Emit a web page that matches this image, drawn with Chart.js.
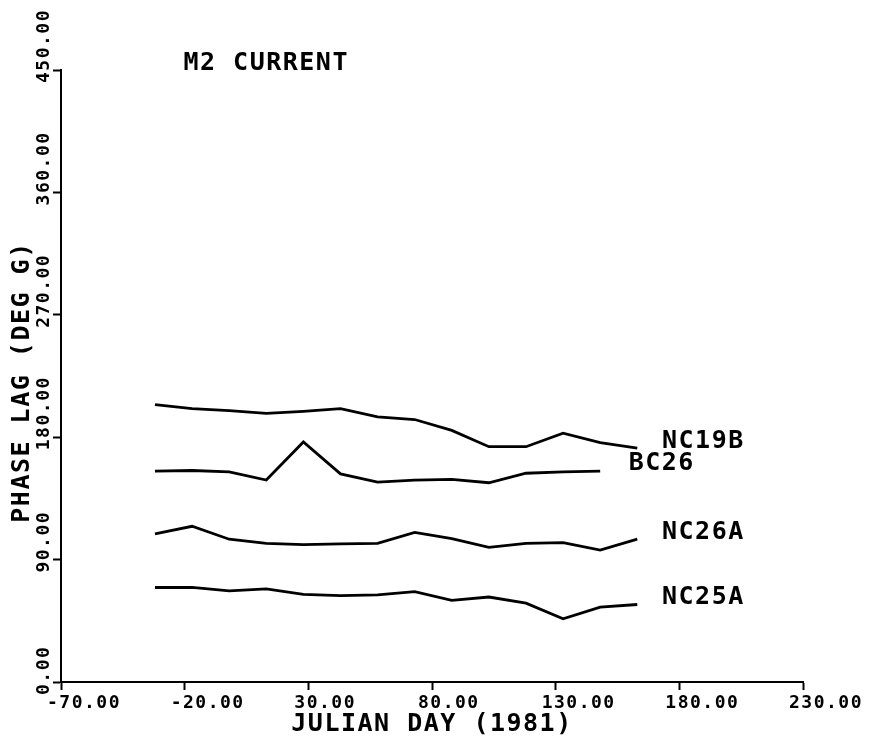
<!DOCTYPE html>
<html>
<head>
<meta charset="utf-8">
<style>
  html, body { margin: 0; padding: 0; background: #ffffff; }
  #wrap { width: 872px; height: 740px; position: relative; }
  canvas { display: block; }
</style>
<script src="https://cdn.jsdelivr.net/npm/chart.js@4/dist/chart.umd.min.js"></script>
</head>
<body>
<div id="wrap"><canvas id="c" width="872" height="740"></canvas></div>
<script>
// ---- data ----
const days   = [-32, -17, -2, 13, 28, 43, 58, 73, 88, 103, 118, 133, 148, 163];
const nc19b  = [204, 201, 199.5, 197.5, 199, 201, 195, 193, 185, 173, 173, 183, 176, 172];
const bc26   = [155, 155.5, 154.5, 148.5, 176.5, 153, 147, 148.5, 149, 146.5, 153.5, 154.5, 155];
const nc26a  = [109, 114.5, 105, 102, 101, 101.5, 102, 110, 105.5, 99, 102, 102.5, 97, 105];
const nc25a  = [69.5, 69.5, 67, 68.5, 64.5, 63.5, 64, 66.5, 60, 62.5, 58, 46.5, 55, 57];
const seriesNames = ['NC19B', 'BC26', 'NC26A', 'NC25A'];
const seriesValues = [nc19b, bc26, nc26a, nc25a];
const xTicks = { min: -70, max: 230, step: 50 };
const yTicks = { min: 0, max: 450, step: 90 };
const chartTitle = 'M2 CURRENT';
const xTitle = 'JULIAN DAY (1981)';
const yTitle = 'PHASE LAG (DEG G)';

// text anchors in data units (day, degrees)
const nameAnchors = [
  { day: 173, value: 177 },
  { day: 159.5, value: 160.5 },
  { day: 173, value: 110 },
  { day: 173, value: 62 }
];
const titleAnchor = { day: -20.5, value: 455 };

const FONT = '"DejaVu Sans Mono", "Liberation Mono", monospace';
const SPACING = '1.5px';

const spacingPlugin = {
  id: 'spacing',
  beforeUpdate(chart) { chart.ctx.letterSpacing = SPACING; },
  beforeDraw(chart) { chart.ctx.letterSpacing = SPACING; }
};

const textPlugin = {
  id: 'texts',
  afterDraw(chart) {
    const ctx = chart.ctx;
    const xs = chart.scales.x, ys = chart.scales.y;
    ctx.save();
    ctx.letterSpacing = SPACING;
    ctx.fillStyle = '#000';
    ctx.font = 'bold 25px ' + FONT;
    ctx.textAlign = 'left';
    ctx.textBaseline = 'middle';
    seriesNames.forEach((n, i) => {
      const a = nameAnchors[i];
      ctx.fillText(n, xs.getPixelForValue(a.day), ys.getPixelForValue(a.value));
    });
    ctx.fillText(chartTitle, xs.getPixelForValue(titleAnchor.day), ys.getPixelForValue(titleAnchor.value));
    // y axis title
    ctx.save();
    ctx.translate(ys.left - 8, (ys.top + ys.bottom) / 2 + 6);
    ctx.rotate(-Math.PI / 2);
    ctx.textAlign = 'center';
    ctx.fillText(yTitle, 0, 0);
    ctx.restore();
    ctx.restore();
  }
};

const datasets = seriesNames.map((name, i) => ({
  label: name,
  data: seriesValues[i].map((v, j) => ({ x: days[j], y: v })),
  borderColor: '#000',
  borderWidth: 2.8,
  pointRadius: 0,
  tension: 0,
  fill: false
}));

new Chart(document.getElementById('c'), {
  type: 'line',
  data: { datasets },
  options: {
    responsive: false,
    animation: false,
    devicePixelRatio: 1,
    layout: { padding: { top: 70, left: 30, right: 69, bottom: 0 } },
    plugins: { legend: { display: false }, tooltip: { enabled: false }, title: { display: false } },
    scales: {
      x: {
        type: 'linear',
        min: xTicks.min, max: xTicks.max,
        border: { display: true, color: '#000', width: 2 },
        grid: { display: true, drawOnChartArea: false, drawTicks: true, tickLength: 8, tickWidth: 2, tickColor: '#000' },
        ticks: {
          stepSize: xTicks.step, autoSkip: false, maxRotation: 0, minRotation: 0,
          align: 'start', labelOffset: -14, padding: 3,
          color: '#000', font: { family: FONT, size: 18, weight: 'bold' },
          callback: v => Number(v).toFixed(2)
        },
        title: { display: true, text: xTitle, color: '#000', font: { family: FONT, size: 25, weight: 'bold', lineHeight: 1 }, padding: { top: 0, bottom: 3 } },
        afterFit(s) { s.height = 58; s.paddingLeft = 0; s.paddingRight = 0; }
      },
      y: {
        type: 'linear',
        min: yTicks.min, max: yTicks.max,
        border: { display: true, color: '#000', width: 2 },
        grid: { display: true, drawOnChartArea: false, drawTicks: true, tickLength: 8, tickWidth: 2, tickColor: '#000' },
        ticks: {
          stepSize: yTicks.step, autoSkip: false, minRotation: 90, maxRotation: 90,
          crossAlign: 'near', padding: 9, labelOffset: -61,
          color: '#000', font: { family: FONT, size: 18, weight: 'bold' },
          callback: v => Number(v).toFixed(2).padEnd(6, ' ')
        },
        title: { display: false },
        afterFit(s) { s.width = 31; s.paddingTop = 0; s.paddingBottom = 0; }
      }
    }
  },
  plugins: [spacingPlugin, textPlugin]
});
</script>
</body>
</html>
